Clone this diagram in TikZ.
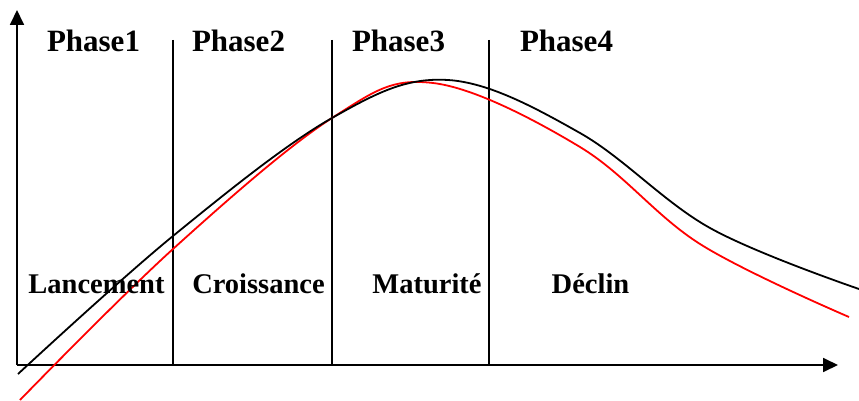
\documentclass[tikz,border=0pt]{standalone}
\usepackage{fontspec}
\setmainfont{Liberation Serif}
\usetikzlibrary{arrows.meta}
\begin{document}
\begin{tikzpicture}[x=1pt,y=-1pt,
  axis/.style={line width=1.8pt,-{Triangle[length=15pt,width=14pt]}},
  phaseline/.style={line width=1.6pt},
  toplabel/.style={font=\fontsize{31}{36}\selectfont\bfseries,anchor=base,inner sep=0pt},
  botlabel/.style={font=\fontsize{28.5}{34}\selectfont\bfseries,anchor=base,inner sep=0pt},
  curveblack/.style={line width=1.8pt,black},
  curvered/.style={line width=1.8pt,red}]
\useasboundingbox (0,0) rectangle (859,401);
\coordinate (O) at (17,365);
\coordinate (Ytip) at (17,10);
\coordinate (Xtip) at (838,365);
\draw[axis] (O) -- (Ytip);
\draw[axis] (O) -- (Xtip);
\coordinate (v1t) at (173,40); \coordinate (v1b) at (173,365);
\coordinate (v2t) at (332,40); \coordinate (v2b) at (332,365);
\coordinate (v3t) at (489,40); \coordinate (v3b) at (489,365);
\draw[phaseline] (v1t) -- (v1b);
\draw[phaseline] (v2t) -- (v2b);
\draw[phaseline] (v3t) -- (v3b);
\draw[curvered] plot[smooth,tension=0.6] coordinates {(20,400) (173,249) (332,118) (433,83) (580,147) (700,244) (849,317)};
\draw[curveblack] plot[smooth,tension=0.6] coordinates {(18,374) (173,236) (332,118) (448,80) (580,133) (710,228) (859,289)};
\node[toplabel] (p1) at (93.5,52) {Phase1};
\node[toplabel] (p2) at (238.5,52) {Phase2};
\node[toplabel] (p3) at (398.5,52) {Phase3};
\node[toplabel] (p4) at (566.5,52) {Phase4};
\node[botlabel] (l1) at (96.5,293) {Lancement};
\node[botlabel] (l2) at (258.5,293) {Croissance};
\node[botlabel] (l3) at (427,293) {Maturité};
\node[botlabel] (l4) at (590.5,293) {Déclin};
\end{tikzpicture}
\end{document}
